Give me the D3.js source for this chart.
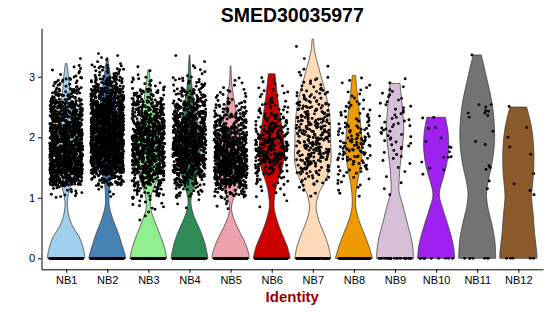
<!DOCTYPE html>
<html lang="en">
<head>
    <meta charset="UTF-8">
    <title>SMED30035977</title>
    <script src="https://d3js.org/d3.v7.min.js"></script>
    <style>
        body {
            margin: 0;
            background-color: white;
            font-family: "Liberation Sans", Arial, sans-serif;
        }
    </style>
</head>
<body>
    <div id="chart"></div>

    <script>
        // groups and fills
        const groups = ["NB1", "NB2", "NB3", "NB4", "NB5", "NB6", "NB7", "NB8", "NB9", "NB10", "NB11", "NB12"];
        const colors = ["#a0d0ec", "#4682b4", "#90ee90", "#2e8b57", "#eea2ad", "#cd0000",
                        "#ffdab9", "#ee9a00", "#d8bfd8", "#a020f0", "#737373", "#8b5a2b"];
        const yTicks = [0, 1, 2, 3];

        // violin outlines: [expression, relative width]
        const profiles = [
            [[0,1],[0.05,1],[0.19,0.9],[0.36,0.7],[0.52,0.36],[0.75,0.11],[0.96,0.07],[1.18,0.23],[1.4,0.45],[1.7,0.55],[2.0,0.52],[2.3,0.42],[2.6,0.25],[3.0,0.13],[3.22,0.04]],
            [[0,1],[0.05,0.97],[0.19,0.83],[0.42,0.59],[0.63,0.32],[0.85,0.12],[1.0,0.09],[1.29,0.18],[1.5,0.4],[1.8,0.6],[2.1,0.6],[2.4,0.48],[2.7,0.3],[3.0,0.18],[3.2,0.08],[3.32,0.03]],
            [[0,1],[0.19,0.86],[0.42,0.59],[0.63,0.32],[0.85,0.11],[1.07,0.18],[1.29,0.45],[1.6,0.6],[1.9,0.6],[2.2,0.5],[2.5,0.3],[2.7,0.2],[2.9,0.1],[3.11,0.03]],
            [[0,1],[0.25,0.83],[0.47,0.57],[0.69,0.25],[0.91,0.08],[1.07,0.14],[1.29,0.36],[1.6,0.55],[1.9,0.58],[2.2,0.48],[2.5,0.3],[2.8,0.15],[3.1,0.06],[3.36,0.02]],
            [[0,1],[0.09,0.97],[0.3,0.72],[0.52,0.36],[0.75,0.08],[0.9,0.07],[1.1,0.3],[1.3,0.55],[1.6,0.62],[1.9,0.55],[2.2,0.42],[2.4,0.32],[2.67,0.16],[2.9,0.06],[3.18,0.02]],
            [[0,1],[0.19,0.85],[0.42,0.54],[0.63,0.29],[0.85,0.13],[1.07,0.18],[1.24,0.3],[1.57,0.63],[1.9,0.67],[2.23,0.52],[2.67,0.32],[3.05,0.18]],
            [[0,0.97],[0.19,0.86],[0.42,0.6],[0.63,0.32],[0.85,0.18],[1.07,0.32],[1.27,0.66],[1.57,0.97],[1.9,0.97],[2.34,0.92],[2.67,0.74],[3.06,0.4],[3.44,0.09],[3.62,0.04]],
            [[0,1],[0.19,0.82],[0.42,0.54],[0.63,0.27],[0.85,0.1],[1.07,0.11],[1.24,0.18],[1.57,0.38],[1.9,0.45],[2.23,0.36],[2.67,0.2],[3.02,0.09]],
            [[0,1],[0.15,0.97],[0.3,0.9],[0.6,0.65],[0.9,0.4],[1.1,0.22],[1.3,0.22],[1.5,0.27],[1.8,0.38],[2.1,0.47],[2.4,0.42],[2.7,0.33],[2.89,0.27]],
            [[0,1],[0.2,0.94],[0.47,0.72],[0.8,0.38],[1.05,0.17],[1.29,0.34],[1.51,0.54],[1.79,0.67],[2.07,0.65],[2.33,0.5]],
            [[0,1],[0.3,0.95],[0.58,0.78],[0.85,0.57],[1.08,0.5],[1.29,0.6],[1.51,0.76],[1.79,0.9],[2.07,0.94],[2.51,0.83],[2.89,0.58],[3.36,0.22]],
            [[0,1],[0.08,1],[0.41,0.88],[0.74,0.8],[1.0,0.72],[1.2,0.76],[1.4,0.82],[1.74,0.84],[2.07,0.76],[2.3,0.62],[2.5,0.45]]
        ];

        // cells with zero expression, per group
        const zeroCounts = [300, 300, 220, 220, 260, 150, 90, 90, 25, 10, 7, 5];

        // nonzero cells of the big groups, counted in bins of 0.2 starting at 0.6
        const binStarts = [0.6, 0.8, 1.0, 1.2, 1.4, 1.6, 1.8, 2.0, 2.2, 2.4, 2.6, 2.8, 3.0, 3.2, 3.4];
        const binCounts = [
            [0, 0, 15, 120, 200, 200, 190, 180, 150, 110, 50, 25, 8, 1, 0],
            [0, 0, 5, 60, 170, 220, 230, 230, 210, 170, 120, 70, 25, 6, 0],
            [3, 10, 30, 70, 120, 150, 150, 140, 110, 80, 40, 15, 3, 0, 0],
            [0, 3, 20, 60, 120, 160, 170, 150, 120, 80, 45, 20, 6, 2, 0],
            [0, 5, 40, 130, 180, 170, 140, 100, 60, 30, 12, 5, 0, 0, 0],
            [0, 2, 6, 15, 40, 70, 65, 45, 30, 18, 10, 6, 0, 0, 0],
            [0, 0, 4, 15, 35, 45, 45, 45, 40, 30, 20, 10, 4, 1, 1],
            [0, 0, 4, 8, 15, 25, 30, 22, 14, 10, 6, 5, 0, 0, 0],
            [0, 0, 2, 2, 3, 6, 9, 11, 10, 8, 7, 3, 0, 0, 0]
        ];

        // nonzero cells of the small groups, read one by one
        const nb10Values = [2.33, 2.32, 2.16, 2.15, 1.99, 1.93, 1.83, 1.84, 1.68, 1.67, 1.67, 1.76, 1.59, 1.49, 1.46, 1.39];
        const nb11Values = [3.36, 2.54, 2.44, 2.40, 2.36, 2.33, 2.43, 2.50, 2.54, 2.40, 2.10, 1.93, 1.88, 1.53, 1.47, 1.50, 1.28, 1.15];
        const nb12Values = [2.51, 2.16, 2.0, 1.84, 1.72, 1.40, 1.23, 1.12, 1.05];

        const width = 550, height = 316;
        const margin = { top: 28.3, right: 7, bottom: 46.7, left: 41.5 };

        const svg = d3.select("#chart").append("svg")
            .attr("width", width)
            .attr("height", height);

        const x = d3.scalePoint()
            .domain(groups)
            .range([margin.left, width - margin.right])
            .padding(0.6);
        const step = x.step();

        const allMax = d3.max(profiles, p => d3.max(p, d => d[0]));
        const pad = allMax * 0.05;
        const y = d3.scaleLinear()
            .domain([-pad, allMax + pad])
            .range([height - margin.bottom, margin.top]);

        const halfW = 0.45 * step;

        // violins
        const area = d3.area()
            .y(d => y(d[0]))
            .x0(d => -d[1] * halfW)
            .x1(d => d[1] * halfW)
            .curve(d3.curveCatmullRom.alpha(0.5));

        svg.append("g").selectAll("path")
            .data(groups)
            .join("path")
            .attr("transform", g => `translate(${x(g)},0)`)
            .attr("d", (g, i) => area(profiles[i]))
            .attr("fill", (g, i) => colors[i])
            .attr("stroke", "#333")
            .attr("stroke-width", 0.7);

        // seeded generator, only for the sideways jitter
        let seed = 20240611;
        function rand() {
            seed |= 0; seed = seed + 0x6D2B79F5 | 0;
            let t = Math.imul(seed ^ seed >>> 15, 1 | seed);
            t = t + Math.imul(t ^ t >>> 7, 61 | t) ^ t;
            return ((t ^ t >>> 14) >>> 0) / 4294967296;
        }

        const cells = [];
        groups.forEach((g, i) => {
            for (let k = 0; k < zeroCounts[i]; k++) cells.push({ g, v: 0 });
            if (i < binCounts.length) {
                binCounts[i].forEach((n, b) => {
                    for (let k = 0; k < n; k++) {
                        cells.push({ g, v: binStarts[b] + 0.2 * (k + 0.5) / n });
                    }
                });
            }
        });
        nb10Values.forEach(v => cells.push({ g: "NB10", v }));
        nb11Values.forEach(v => cells.push({ g: "NB11", v }));
        nb12Values.forEach(v => cells.push({ g: "NB12", v }));
        // horizontal jitter, like geom_jitter(width = 0.4)
        cells.forEach(c => { c.dx = (rand() * 2 - 1) * 0.4 * step; });

        svg.append("g").selectAll("circle")
            .data(cells)
            .join("circle")
            .attr("cx", d => x(d.g) + d.dx)
            .attr("cy", d => y(d.v))
            .attr("r", 1.45)
            .attr("fill", "black");

        // axes
        const xAxis = svg.append("g")
            .attr("transform", `translate(0,${height - margin.bottom})`)
            .call(d3.axisBottom(x).tickSize(3.5).tickPadding(3).tickSizeOuter(0));
        const yAxis = svg.append("g")
            .attr("transform", `translate(${margin.left},0)`)
            .call(d3.axisLeft(y).tickValues(yTicks).tickFormat(d3.format("d"))
                .tickSize(3.5).tickPadding(3).tickSizeOuter(0));

        [xAxis, yAxis].forEach(a => {
            a.select(".domain").attr("stroke", "black").attr("stroke-width", 1);
            a.selectAll(".tick line").attr("stroke", "black");
            a.selectAll("text")
                .attr("fill", "black")
                .style("font-family", "'Liberation Sans', Arial, sans-serif")
                .style("font-size", "11px");
        });

        const panelMid = (margin.left + width - margin.right) / 2;

        svg.append("text")
            .attr("x", panelMid)
            .attr("y", 21.7)
            .attr("text-anchor", "middle")
            .style("font-size", "19.5px")
            .style("font-weight", "bold")
            .text("SMED30035977");

        svg.append("text")
            .attr("x", panelMid)
            .attr("y", 302.3)
            .attr("text-anchor", "middle")
            .attr("fill", "#990000")
            .style("font-size", "15px")
            .style("font-weight", "bold")
            .text("Identity");
    </script>
</body>
</html>
